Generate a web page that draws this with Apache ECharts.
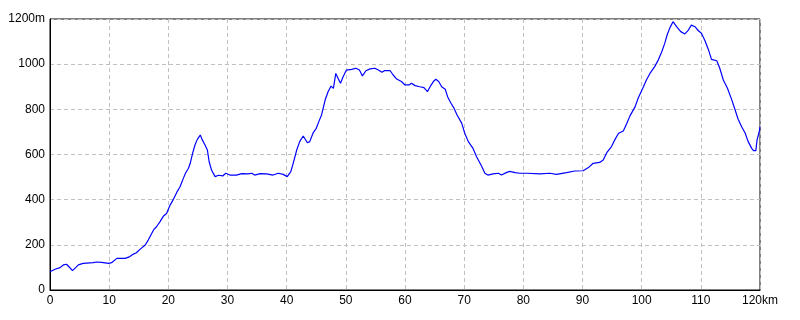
<!DOCTYPE html>
<html>
<head>
<meta charset="utf-8">
<script src="https://cdn.jsdelivr.net/npm/echarts@6/dist/echarts.min.js"></script>
<style>html,body{margin:0;padding:0;background:#fff}#c{width:800px;height:320px}</style>
</head>
<body>
<div id="c"></div>
<script>
const distanceKm = [0,0.85,1.7,2.25,2.8,3.2,3.8,4.2,4.8,5.6,7.3,7.9,8.7,9.9,10.4,11.3,12.7,13.5,14.1,14.6,15.2,16.1,16.6,17.5,18.0,18.6,19.2,19.7,20.3,20.8,21.4,22.0,22.5,22.9,23.4,23.7,24.1,24.5,24.9,25.4,25.7,26.2,26.6,26.9,27.3,27.9,28.5,29.2,29.7,30.4,31.5,32.4,33.5,34.1,34.6,35.5,
36.6,37.7,38.6,39.4,40.1,40.7,41.1,41.7,42.2,42.8,43.1,43.5,43.9,44.5,45.0,45.5,45.9,46.5,47.0,47.5,47.9,48.3,48.7,49.1,49.5,49.7,50.1,51.0,51.7,52.3,52.8,53.4,54.1,54.9,55.5,56.1,56.5,57.5,58.0,58.6,59.4,60.0,60.7,61.1,61.7,62.5,63.2,63.8,64.3,64.8,65.2,65.7,66.2,66.8,67.2,67.7,68.3,68.8,69.6,70.1,70.7,71.5,72.1,73.0,73.5,74.0,74.9,75.8,76.3,77.2,77.7,78.6,79.4,80.6,
82.8,84.5,85.6,87.3,88.7,90.1,91.0,91.8,92.9,93.5,94.1,94.9,95.5,96.1,96.9,97.5,98.0,98.9,99.4,100.3,100.8,101.4,102.2,102.8,103.4,103.9,104.3,104.8,105.3,105.9,106.6,107.3,107.9,108.4,109.0,109.6,110.1,110.7,111.3,111.8,112.7,113.2,113.8,114.5,115.2,115.8,116.3,116.9,117.5,118.0,118.6,118.9,119.3,119.5,119.9,120.0];
const elevationM = [81,92,99,111,114,103,86,96,111,118,121,124,122,118,121,140,140,148,159,165,180,199,221,266,280,303,328,339,376,399,431,458,492,517,539,561,605,642,667,686,667,642,620,568,531,502,508,505,517,509,509,515,514,517,509,515,
514,509,517,512,502,524,561,620,657,682,679,652,657,697,716,750,775,841,878,903,893,959,937,915,942,937,974,977,982,974,948,971,979,982,974,964,971,971,952,934,923,908,908,915,905,900,896,878,903,923,933,923,900,889,856,830,804,775,738,694,657,627,590,546,517,509,514,517,509,521,525,520,517,517,
514,517,512,520,527,528,542,561,565,576,608,635,667,694,704,738,770,812,849,900,930,959,989,1018,1055,1092,1129,1163,1188,1166,1144,1134,1151,1173,1166,1148,1137,1104,1063,1021,1015,982,930,893,844,797,756,723,694,657,627,617,617,664,705,723];
const xTicks = {min:0, max:120, step:10, unit:'km'};
const yTicks = {min:0, max:1200, step:200, unit:'m'};

const points = distanceKm.map((d,i)=>[d, elevationM[i]]);
const font = "'Liberation Sans Narrow','Liberation Sans',sans-serif";
const chart = echarts.init(document.getElementById('c'), null, {renderer:'canvas'});
chart.setOption({
  animation:false,
  backgroundColor:'#ffffff',
  grid:{left:50,right:40,top:19,bottom:30,show:true,borderColor:'#000',borderWidth:1,backgroundColor:'#fff'},
  xAxis:{type:'value',min:xTicks.min,max:xTicks.max,interval:xTicks.step,
    axisLine:{show:true,lineStyle:{color:'#000',width:1}},axisTick:{show:false},
    axisLabel:{color:'#000',fontFamily:font,fontSize:12,margin:5,
      formatter:v=>v===xTicks.max?v+xTicks.unit:String(v)},
    splitLine:{show:true,lineStyle:{color:'#c0c0c0',type:[4,3],width:1}}},
  yAxis:{type:'value',min:yTicks.min,max:yTicks.max,interval:yTicks.step,
    axisLine:{show:true,lineStyle:{color:'#000',width:1}},axisTick:{show:false},
    axisLabel:{color:'#000',fontFamily:font,fontSize:12,margin:5,
      formatter:v=>v===yTicks.max?v+yTicks.unit:String(v)},
    splitLine:{show:true,lineStyle:{color:'#c0c0c0',type:[4,3],width:1}}},
  series:[{type:'line',data:points,showSymbol:false,symbol:'none',
    lineStyle:{color:'#0000ff',width:1.2},itemStyle:{color:'#0000ff'}}]
});
</script>
</body>
</html>
